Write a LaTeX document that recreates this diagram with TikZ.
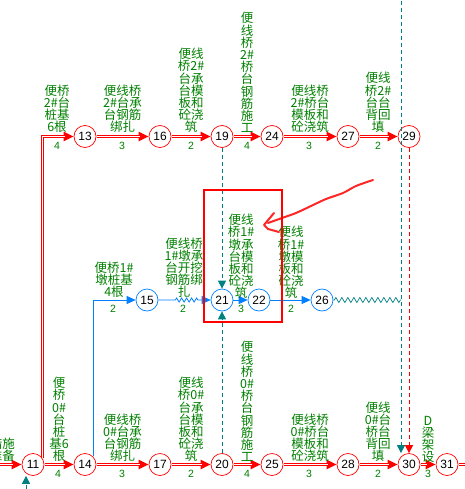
\documentclass[tikz,border=0pt]{standalone}
\usepackage{fontspec}
\setmainfont{Liberation Sans}
\newfontfamily\cjk{Noto Sans CJK SC}
\usetikzlibrary{arrows.meta, decorations.pathmorphing, calc}
\definecolor{dkgreen}{RGB}{0,128,0}
\definecolor{nblue}{RGB}{0,128,255}
\definecolor{tealc}{RGB}{0,128,128}
\tikzset{
  rn/.style={circle, draw=red, fill=white, line width=0.7pt, minimum size=22pt, inner sep=0pt, font=\fontsize{12}{12}\selectfont},
  bn/.style={rn, draw=nblue},
  lbl/.style={font=\cjk\fontsize{12.5}{12.2}\selectfont, text=dkgreen, align=center, inner sep=0pt, anchor=south},
  dur/.style={font=\fontsize{10.5}{10.5}\selectfont, text=dkgreen, inner sep=0pt},
  critouter/.style={draw=red, line width=3pt, shorten <=0.4pt, -{Triangle[length=10pt,width=9pt]}},
  critinner/.style={draw=white, line width=1pt, shorten <=0.4pt, shorten >=9pt},
  bluearr/.style={draw=nblue, line width=0.8pt, -{Triangle[length=9pt,width=8pt]}},
  bzig/.style={decorate, decoration={zigzag, amplitude=2pt, segment length=5pt, pre length=17pt, post length=11pt}},
  tzig/.style={draw=tealc, line width=0.7pt, decorate, decoration={zigzag, amplitude=2.5pt, segment length=6pt, pre length=1pt, post length=0pt}},
  dummy/.style={draw=tealc, line width=0.8pt, dash pattern=on 4pt off 3pt, -{Triangle[length=8pt,width=8pt]}},
  reddummy/.style={dummy, draw=red},
  mark box/.style={draw=red, line width=1.4pt},
  scribble/.style={draw=red, line width=2pt, line cap=round, line join=round, opacity=0.85}
}
\newcommand\critarc[3][--]{\draw[critouter] (#2) #1 (#3); \draw[critinner] (#2) #1 (#3);}
\begin{document}
\begin{tikzpicture}[x=1pt,y=-1pt]
\useasboundingbox[fill=white] (0,0) rectangle (464,489);
% nodes
\node[rn] (n13) at (85,136.5) {13};
\node[rn] (n16) at (160,136.5) {16};
\node[rn] (n19) at (222,136.5) {19};
\node[rn] (n24) at (272,136.5) {24};
\node[rn] (n27) at (348,136.5) {27};
\node[rn] (n29) at (409,136.5) {29};
\node[bn] (n15) at (147,300) {15};
\node[bn] (n21) at (222,300) {21};
\node[bn] (n22) at (259,300) {22};
\node[bn] (n26) at (322,300) {26};
\node[rn] (n11) at (33,464.5) {11};
\node[rn] (n14) at (85,464.5) {14};
\node[rn] (n17) at (160,464.5) {17};
\node[rn] (n20) at (222,464.5) {20};
\node[rn] (n25) at (272,464.5) {25};
\node[rn] (n28) at (348,464.5) {28};
\node[rn] (n30) at (409,464.5) {30};
\node[rn] (n31) at (447,464.5) {31};
\coordinate (in11) at (-6,464.5);
\coordinate (out31) at (490,464.5);
\coordinate (v11) at (42.5,458);
\coordinate (j26) at (401,300);
\coordinate (t30) at (401,-6);
\coordinate (b11) at (26,496);
% critical (double) arcs
\critarc{in11}{n11}
\critarc{n11}{n14}
\critarc{n14}{n17}
\critarc{n17}{n20}
\critarc{n20}{n25}
\critarc{n25}{n28}
\critarc{n28}{n30}
\critarc{n30}{n31}
\critarc{n31}{out31}
\critarc[|-]{v11}{n13}
\critarc{n13}{n16}
\critarc{n16}{n19}
\critarc{n19}{n24}
\critarc{n24}{n27}
\critarc{n27}{n29}
% blue chain
\draw[bluearr] (n14.45) |- (n15);
\draw[bluearr, bzig] (n15) -- (n21);
\draw[bluearr] (n21) -- (n22);
\draw[bluearr] (n22) -- (n26);
\draw[tzig] (n26) -- (j26);
% dummies
\draw[dummy] (t30) -- (t30 |- n30.north);
\draw[dummy] (n19) -- (n21);
\draw[dummy] (n20) -- (n21);
\draw[dummy] (b11) -- (b11 |- n11.south);
\draw[reddummy] (n29) -- (n30);
% labels top row
\node[lbl] (l1) at (57,133) {便桥\\2\#台\\桩基\\6根};
\node[lbl] (l2) at (122.5,133) {便线桥\\2\#台承\\台钢筋\\绑扎};
\node[lbl] (l3) at (191,133) {便线\\桥2\#\\台承\\台模\\板和\\砼浇\\筑};
\node[lbl] (l4) at (247,133) {便\\线\\桥\\2\#\\桥\\台\\钢\\筋\\施\\工};
\node[lbl] (l5) at (310,133) {便线桥\\2\#桥台\\模板和\\砼浇筑};
\node[lbl] (l6) at (378,133) {便线\\桥2\#\\台台\\背回\\填};
\node[dur] (d1) at (57,146) {4};
\node[dur] (d2) at (122,146) {3};
\node[dur] (d3) at (191,146) {2};
\node[dur] (d4) at (247,146) {4};
\node[dur] (d5) at (309,146) {3};
\node[dur] (d6) at (378,146) {2};
% labels middle row
\node[lbl] (m1) at (114,298) {便桥1\#\\墩桩基\\4根};
\node[lbl] (m2) at (184,298) {便线桥\\1\#墩承\\台开挖\\钢筋绑\\扎};
\node[lbl] (m3) at (241,299) {便线\\桥1\#\\墩承\\台模\\板和\\砼浇\\筑};
\node[lbl] (m4) at (291,299) {便线\\桥1\#\\墩模\\板和\\砼浇\\筑};
\node[dur] (e1) at (113,309) {2};
\node[dur] (e2) at (183,309) {2};
\node[dur] (e3) at (241,309) {3};
\node[dur] (e4) at (291,309) {2};
% labels bottom row
\node[lbl, anchor=south east] (b0) at (15,462) {措施\\准备};
\node[lbl] (b1) at (59,462) {便\\桥\\0\#\\台\\桩\\基6\\根};
\node[lbl] (b2) at (122.5,462) {便线桥\\0\#台承\\台钢筋\\绑扎};
\node[lbl] (b3) at (191,462) {便线\\桥0\#\\台承\\台模\\板和\\砼浇\\筑};
\node[lbl] (b4) at (247,462) {便\\线\\桥\\0\#\\桥\\台\\钢\\筋\\施\\工};
\node[lbl] (b5) at (310,462) {便线桥\\0\#桥台\\模板和\\砼浇筑};
\node[lbl] (b6) at (378,462) {便线\\0\#台\\桥台\\背回\\填};
\node[lbl] (b7) at (428,463) {D\\梁\\架\\设};
\node[dur] (f1) at (58,474) {4};
\node[dur] (f2) at (122,474) {3};
\node[dur] (f3) at (191,474) {2};
\node[dur] (f4) at (247,474) {4};
\node[dur] (f5) at (309,474) {3};
\node[dur] (f6) at (378,474) {2};
\node[dur] (f7) at (428,474) {3};
% annotation
\draw[mark box] (204,190) rectangle (282,322);
\draw[scribble] plot[smooth] coordinates {(373,180) (356,186) (343,193) (326,199) (311,206) (296,213) (282,218) (268,223)};
\draw[scribble] (274,213) -- (264,225) -- (268,229) -- (279,232);
\end{tikzpicture}
\end{document}
